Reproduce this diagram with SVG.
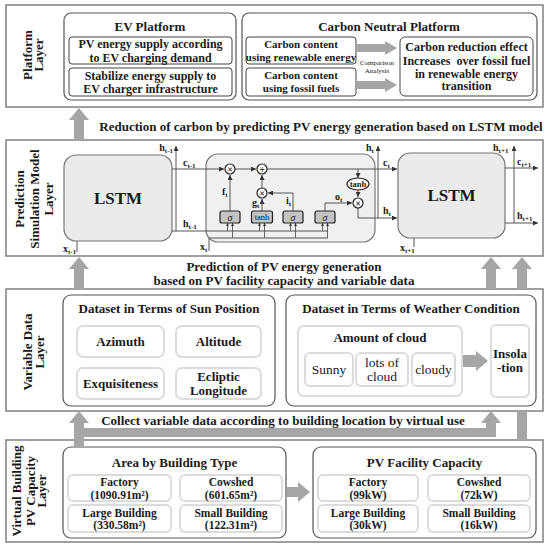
<svg xmlns="http://www.w3.org/2000/svg" width="549" height="550" viewBox="0 0 549 550">
<defs>
<marker id="ar" viewBox="0 0 6 6" refX="6" refY="3" markerWidth="5" markerHeight="5" orient="auto"><path d="M0,0L6,3L0,6z" fill="#333"/></marker>
<marker id="sm" viewBox="0 0 6 6" refX="6" refY="3" markerWidth="3.5" markerHeight="3.5" orient="auto"><path d="M0,0L6,3L0,6z" fill="#333"/></marker>
<style>
text{font-family:"Liberation Serif","Times New Roman",serif;fill:#1a1a1a}
.b{font-weight:bold}
.t13{font-size:13px;font-weight:bold;text-anchor:middle}
.t12{font-size:12px;font-weight:bold;text-anchor:middle}
.t115{font-size:11.5px;font-weight:bold;text-anchor:middle}
.t11{font-size:11px;font-weight:bold;text-anchor:middle}
.n13{font-size:13.5px;text-anchor:middle}
.lbl{font-size:10px;font-weight:bold}
.sub{font-size:7px}
.layer{fill:#fff;stroke:#808080;stroke-width:1.5}
.grp{fill:#fff;stroke:#555;stroke-width:1.2}
.itm{fill:#fff;stroke:#444;stroke-width:1}
.soft{fill:#fff;stroke:#dcdcdc;stroke-width:2}
.lstm{fill:#ebebeb;stroke:#777;stroke-width:1.2}
.cell{fill:#f0f0f0;stroke:#777;stroke-width:1.2}
.gate{fill:#c4c4c4;stroke:#222;stroke-width:1.2}
.op{fill:#fff;stroke:#222;stroke-width:1.2}
.ln{fill:none;stroke:#555;stroke-width:1}
.lna{fill:none;stroke:#555;stroke-width:1;marker-end:url(#ar)}
.lns{fill:none;stroke:#555;stroke-width:0.9;marker-end:url(#sm)}
.gray{fill:#a6a6a6}
</style>
</defs>

<!-- Layer boxes -->
<g id="platform-layer">
<rect class="layer" x="6" y="5" width="537" height="102"/>
<text class="t13" transform="translate(0,55) rotate(-90)"><tspan x="0" y="32">Platform</tspan><tspan x="0" y="43">Layer</tspan></text>
</g>
<g id="prediction-layer">
<rect class="layer" x="6" y="140" width="537" height="116"/>
<text class="t13" transform="translate(0,199) rotate(-90)"><tspan x="0" y="24">Prediction</tspan><tspan x="0" y="38.5">Simulation Model</tspan><tspan x="0" y="52.5">Layer</tspan></text>
</g>
<g id="variable-layer">
<rect class="layer" x="6" y="289" width="537" height="122"/>
<text class="t13" transform="translate(0,352) rotate(-90)"><tspan x="0" y="32">Variable Data</tspan><tspan x="0" y="44">Layer</tspan></text>
</g>
<g id="capacity-layer">
<rect class="layer" x="6" y="440" width="537" height="102"/>
<text class="t13" transform="translate(0,491) rotate(-90)"><tspan x="0" y="21">Virtual Building</tspan><tspan x="0" y="34.5">PV Capacity</tspan><tspan x="0" y="46">Layer</tspan></text>
</g>

<!-- Platform layer content -->
<g id="ev-platform">
<rect class="grp" x="64" y="13" width="172" height="87" rx="7"/>
<text class="t13" x="150" y="31">EV Platform</text>
</g>
<g id="ev-supply">
<rect class="itm" x="69" y="37" width="163" height="27" rx="3"/>
<text class="t12" x="150.5" y="48">PV energy supply according</text>
<text class="t12" x="150.5" y="61.5">to EV charging demand</text>
</g>
<g id="ev-stabilize">
<rect class="itm" x="69" y="68" width="163" height="28" rx="3"/>
<text class="t12" x="150.5" y="80">Stabilize energy supply to</text>
<text class="t12" x="150.5" y="93">EV charger infrastructure</text>
</g>
<g id="carbon-platform">
<rect class="grp" x="242" y="13" width="295" height="87" rx="7"/>
<text class="t13" x="389" y="31">Carbon Neutral Platform</text>
<text x="377" y="65" style="font-size:7px;text-anchor:middle">Comparison</text>
<text x="377" y="73" style="font-size:7px;text-anchor:middle">Analysis</text>
</g>
<g id="carbon-renewable">
<rect class="itm" x="246" y="37" width="110" height="27" rx="3"/>
<text class="t11" x="301" y="48">Carbon content</text>
<text class="t11" x="301" y="61">using renewable energy</text>
</g>
<g id="carbon-fossil">
<rect class="itm" x="246" y="68" width="110" height="28" rx="3"/>
<text class="t11" x="301" y="79">Carbon content</text>
<text class="t11" x="301" y="92">using fossil fuels</text>
</g>
<g id="carbon-effect">
<rect class="itm" x="400" y="37" width="133" height="59" rx="5"/>
<text class="t12" x="466.5" y="51">Carbon reduction effect</text>
<text class="t12" x="466.5" y="65" xml:space="preserve">Increases  over fossil fuel</text>
<text class="t12" x="466.5" y="77.5">in renewable energy</text>
<text class="t12" x="466.5" y="90">transition</text>
</g>

<text class="t13" x="321" y="130.5">Reduction of carbon by predicting PV energy generation based on LSTM model</text>

<!-- Prediction layer content -->
<g id="lstm-prev">
<rect class="lstm" x="64" y="155" width="108" height="86" rx="12"/>
<text class="b" x="118" y="204" style="font-size:17px;text-anchor:middle">LSTM</text>
</g>
<g id="lstm-cell">
<rect class="cell" x="206" y="154" width="169" height="88" rx="12"/>
</g>
<g id="lstm-next">
<rect class="lstm" x="398" y="153" width="107" height="85" rx="12"/>
<text class="b" x="451.5" y="201" style="font-size:17px;text-anchor:middle">LSTM</text>
</g>

<text class="t13" x="284" y="271">Prediction of PV energy generation</text>
<text class="t13" x="284" y="285">based on PV facility capacity and variable data</text>

<!-- Variable data layer -->
<g id="sun-position">
<rect class="grp" x="63" y="295" width="212" height="111" rx="8"/>
<text class="t13" x="169" y="312.5">Dataset in Terms of Sun Position</text>
</g>
<g id="azimuth"><rect class="soft" x="77" y="326" width="87" height="31" rx="6"/><text class="t13" x="120.5" y="346">Azimuth</text></g>
<g id="altitude"><rect class="soft" x="176" y="326" width="85" height="31" rx="6"/><text class="t13" x="218.5" y="346">Altitude</text></g>
<g id="exquisiteness"><rect class="soft" x="77" y="368" width="87" height="31" rx="6"/><text class="t13" x="120.5" y="388">Exquisiteness</text></g>
<g id="ecliptic"><rect class="soft" x="176" y="368" width="85" height="31" rx="6"/><text class="t13" x="218.5" y="380.5">Ecliptic</text><text class="t13" x="218.5" y="395">Longitude</text></g>

<g id="weather">
<rect class="grp" x="286" y="295" width="250" height="111" rx="8"/>
<text class="t13" x="411" y="312.5">Dataset in Terms of Weather Condition</text>
</g>
<g id="amount-cloud">
<rect class="soft" x="298" y="326" width="164" height="70" rx="6"/>
<text class="t13" x="380" y="342">Amount of cloud</text>
</g>
<g id="sunny"><rect class="soft" x="305" y="353" width="48" height="33" rx="5"/><text class="n13" x="329" y="374">Sunny</text></g>
<g id="lots-cloud"><rect class="soft" x="356" y="353" width="52" height="33" rx="5"/><text class="n13" x="382" y="366.5">lots of</text><text class="n13" x="382" y="380.5">cloud</text></g>
<g id="cloudy"><rect class="soft" x="412" y="353" width="43" height="33" rx="5"/><text class="n13" x="433.5" y="374">cloudy</text></g>
<g id="insolation"><rect class="soft" x="491" y="325" width="38" height="72" rx="5"/><text class="t13" x="510" y="358">Insola</text><text class="t13" x="510" y="372">-tion</text></g>

<text class="t13" x="283" y="424.5">Collect variable data according to building location by virtual use</text>

<!-- Capacity layer -->
<g id="area-type">
<rect class="grp" x="63" y="447" width="223" height="91" rx="8"/>
<text class="t13" x="174.5" y="466.5">Area by Building Type</text>
</g>
<g id="area-factory"><rect class="soft" x="68" y="475" width="103" height="26" rx="5"/><text class="t115" x="119.5" y="486">Factory</text><text class="t115" x="119.5" y="498.5">(1090.91m²)</text></g>
<g id="area-cowshed"><rect class="soft" x="180" y="475" width="102" height="26" rx="5"/><text class="t115" x="231" y="486">Cowshed</text><text class="t115" x="231" y="498.5">(601.65m²)</text></g>
<g id="area-large"><rect class="soft" x="68" y="505" width="103" height="27" rx="5"/><text class="t115" x="119.5" y="516.5">Large Building</text><text class="t115" x="119.5" y="529">(330.58m²)</text></g>
<g id="area-small"><rect class="soft" x="180" y="505" width="102" height="27" rx="5"/><text class="t115" x="231" y="516.5">Small Building</text><text class="t115" x="231" y="529">(122.31m²)</text></g>

<g id="pv-capacity">
<rect class="grp" x="313" y="447" width="223" height="91" rx="8"/>
<text class="t13" x="424.5" y="466.5">PV Facility Capacity</text>
</g>
<g id="cap-factory"><rect class="soft" x="318" y="475" width="100" height="26" rx="5"/><text class="t115" x="368" y="486">Factory</text><text class="t115" x="368" y="498.5">(99kW)</text></g>
<g id="cap-cowshed"><rect class="soft" x="428" y="475" width="102" height="26" rx="5"/><text class="t115" x="479" y="486">Cowshed</text><text class="t115" x="479" y="498.5">(72kW)</text></g>
<g id="cap-large"><rect class="soft" x="318" y="505" width="100" height="27" rx="5"/><text class="t115" x="368" y="516.5">Large Building</text><text class="t115" x="368" y="529">(30kW)</text></g>
<g id="cap-small"><rect class="soft" x="428" y="505" width="102" height="27" rx="5"/><text class="t115" x="479" y="516.5">Small Building</text><text class="t115" x="479" y="529">(16kW)</text></g>

<!-- Connectors -->
<g id="connectors">
<polygon class="gray" points="74,140 74,120 69,120 79,108 89,120 84,120 84,140"/>
<polygon class="gray" points="74,289 74,269 69,269 79,257 89,269 84,269 84,289"/>
<polygon class="gray" points="486,289 486,269 481,269 491,257 501,269 496,269 496,289"/>
<polygon class="gray" points="517,289 517,269 512,269 522,257 532,269 527,269 527,289"/>
<rect class="gray" x="517" y="411" width="10" height="29"/>
<polygon class="gray" points="74,447 74,423 69,423 79,411 89,423 84,423 84,428 486,428 486,423 481,423 491,411 501,423 496,423 496,437 84,437 84,447"/>
<polygon class="gray" points="357,44 385,44 385,41 397,48 385,55 385,52 357,52"/>
<polygon class="gray" points="357,81 385,81 385,78 397,85 385,92 385,89 357,89"/>
<polygon class="gray" points="463,355 476,355 476,351 488,361 476,371 476,367 463,367"/>
<polygon class="gray" points="287,487 298,487 298,482 310,492 298,502 298,497 287,497"/>

<path class="lna" d="M176,231 V146"/>
<path class="lna" d="M172,169 H224"/>
<path class="lna" d="M235,169 H256"/>
<path class="lna" d="M267,169 H397"/>
<path class="lna" d="M358,169 V178"/>
<path class="lna" d="M358,190 V197"/>
<path class="ln" d="M358,208 V218 H378"/>
<path class="lna" d="M378,218 H397"/>
<path class="lna" d="M378,218 V146"/>
<path class="lna" d="M230,211 V175"/>
<path class="lna" d="M262,211 V199"/>
<path class="lna" d="M262,188 V175"/>
<path class="lna" d="M293,211 V193 H268"/>
<path class="lna" d="M325,211 V203 H352"/>
<path class="ln" d="M172,231 H328"/>
<path class="ln" d="M209,251 V238 H328"/>
<path class="lns" d="M227.5,231 V223"/><path class="lns" d="M232.5,238 V223"/>
<path class="lns" d="M259.5,231 V223"/><path class="lns" d="M264.5,238 V223"/>
<path class="lns" d="M290.5,231 V223"/><path class="lns" d="M295.5,238 V223"/>
<path class="lns" d="M322.5,231 V223"/><path class="lns" d="M327.5,238 V223"/>
<path class="ln" d="M77,241 V252"/>
<path class="ln" d="M414,238 V247"/>
<path class="lna" d="M505,168 H538"/>
<path class="lna" d="M505,223 H538"/>
<path class="lna" d="M514,223 V146"/>
</g>

<g id="cell-ops">
<circle class="op" cx="230" cy="169" r="5"/><text class="b" x="230" y="172.5" style="font-size:10px;text-anchor:middle">×</text>
<circle class="op" cx="262" cy="169" r="5"/><text class="b" x="262" y="172.5" style="font-size:10px;text-anchor:middle">+</text>
<circle class="op" cx="262" cy="193" r="5"/><text class="b" x="262" y="196.5" style="font-size:10px;text-anchor:middle">×</text>
<circle class="op" cx="358" cy="203" r="5"/><text class="b" x="358" y="206.5" style="font-size:10px;text-anchor:middle">×</text>
<ellipse class="op" cx="358" cy="184" rx="11" ry="6"/><text class="b" x="358" y="187" style="font-size:8.5px;text-anchor:middle">tanh</text>
</g>
<g id="cell-gates">
<rect class="gate" x="220" y="211" width="20" height="12" rx="2"/><text x="230" y="220.5" style="font-size:10px;font-style:italic;text-anchor:middle">σ</text>
<rect class="gate" x="251.5" y="211" width="21" height="12" rx="2"/><text x="262" y="220" style="font-size:8.5px;text-anchor:middle">tanh</text>
<rect class="gate" x="283" y="211" width="20" height="12" rx="2"/><text x="293" y="220.5" style="font-size:10px;font-style:italic;text-anchor:middle">σ</text>
<rect class="gate" x="315" y="211" width="20" height="12" rx="2"/><text x="325" y="220.5" style="font-size:10px;font-style:italic;text-anchor:middle">σ</text>
</g>
<g id="lstm-labels">
<text class="lbl" x="173" y="151" text-anchor="end">h<tspan class="sub" dy="2">t-1</tspan></text>
<text class="lbl" x="183" y="166">c<tspan class="sub" dy="2">t-1</tspan></text>
<text class="lbl" x="183" y="227">h<tspan class="sub" dy="2">t-1</tspan></text>
<text class="lbl" x="63" y="252">x<tspan class="sub" dy="2">t-1</tspan></text>
<text class="lbl" x="200" y="250">x<tspan class="sub" dy="2">t</tspan></text>
<text class="lbl" x="222" y="195">f<tspan class="sub" dy="2">t</tspan></text>
<text class="lbl" x="252" y="206">g<tspan class="sub" dy="2">t</tspan></text>
<text class="lbl" x="286" y="204">i<tspan class="sub" dy="2">t</tspan></text>
<text class="lbl" x="335" y="200">o<tspan class="sub" dy="2">t</tspan></text>
<text class="lbl" x="366" y="151">h<tspan class="sub" dy="2">t</tspan></text>
<text class="lbl" x="383" y="166">c<tspan class="sub" dy="2">t</tspan></text>
<text class="lbl" x="383" y="214">h<tspan class="sub" dy="2">t</tspan></text>
<text class="lbl" x="493" y="151">h<tspan class="sub" dy="2">t+1</tspan></text>
<text class="lbl" x="517" y="165">c<tspan class="sub" dy="2">t+1</tspan></text>
<text class="lbl" x="517" y="219">h<tspan class="sub" dy="2">t+1</tspan></text>
<text class="lbl" x="400" y="251">x<tspan class="sub" dy="2">t+1</tspan></text>
</g>
</svg>
